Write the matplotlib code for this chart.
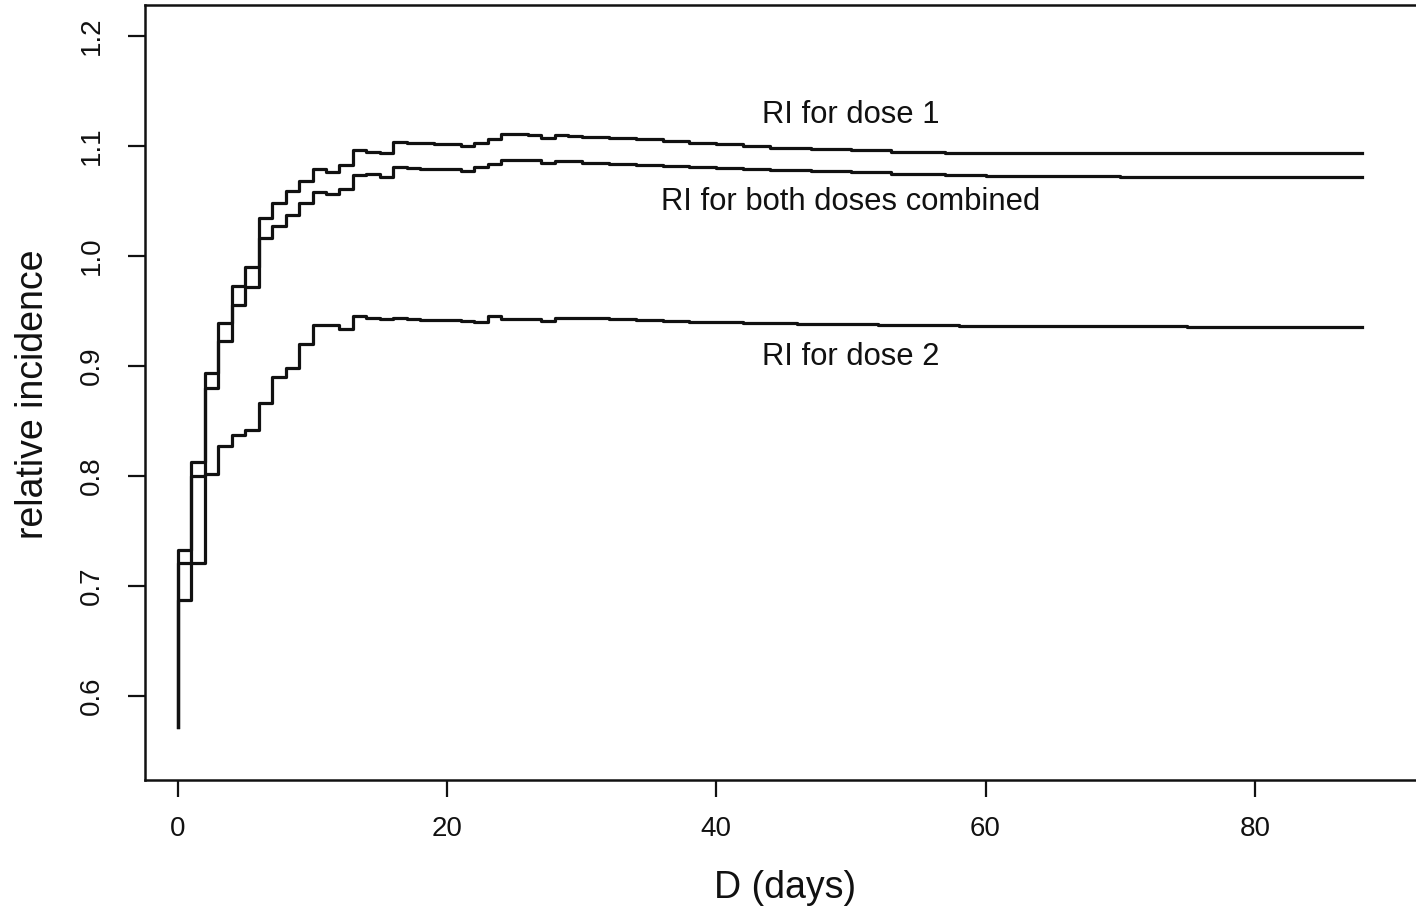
import matplotlib.pyplot as plt
import numpy as np

plt.rcParams['font.family'] = ['Liberation Sans', 'DejaVu Sans']

# start value shared by all three estimates at day 0
start = 0.572

# risk-period lengths (days) where each step begins, and the RI over that step
days_dose1 = [0, 1, 2, 3, 4, 5, 6, 7, 8, 9, 10, 11, 12, 13, 14, 15, 16, 17, 18, 19,
              20, 21, 22, 23, 24, 25, 26, 27, 28, 29, 30, 32, 34, 36, 38, 40, 42, 44,
              47, 50, 53, 57, 60, 88]
ri_dose1 = [0.733, 0.813, 0.894, 0.939, 0.973, 0.990, 1.035, 1.048, 1.059, 1.068,
            1.079, 1.076, 1.083, 1.096, 1.095, 1.094, 1.104, 1.103, 1.103, 1.102,
            1.102, 1.100, 1.103, 1.106, 1.111, 1.111, 1.110, 1.107, 1.110, 1.109,
            1.108, 1.107, 1.106, 1.105, 1.103, 1.102, 1.100, 1.098, 1.097, 1.096,
            1.095, 1.094, 1.0935, 1.0935]

days_both = [0, 1, 2, 3, 4, 5, 6, 7, 8, 9, 10, 11, 12, 13, 14, 15, 16, 17, 18, 19,
             20, 21, 22, 23, 24, 25, 26, 27, 28, 30, 32, 34, 36, 38, 40, 42, 44, 47,
             50, 53, 57, 60, 70, 88]
ri_both = [0.687, 0.800, 0.880, 0.923, 0.955, 0.972, 1.016, 1.027, 1.037, 1.048,
           1.058, 1.056, 1.061, 1.074, 1.075, 1.072, 1.081, 1.080, 1.079, 1.079,
           1.079, 1.077, 1.081, 1.084, 1.087, 1.087, 1.087, 1.085, 1.086, 1.085,
           1.084, 1.083, 1.082, 1.081, 1.080, 1.079, 1.078, 1.077, 1.076, 1.075,
           1.074, 1.073, 1.072, 1.072]

days_dose2 = [0, 2, 3, 4, 5, 6, 7, 8, 9, 10, 11, 12, 13, 14, 15, 16, 17, 18, 21, 22,
              23, 24, 27, 28, 30, 32, 34, 36, 38, 42, 46, 52, 58, 62, 75, 88]
ri_dose2 = [0.721, 0.802, 0.827, 0.837, 0.842, 0.866, 0.890, 0.898, 0.920, 0.937,
            0.937, 0.934, 0.945, 0.944, 0.943, 0.944, 0.943, 0.942, 0.941, 0.940,
            0.945, 0.943, 0.941, 0.944, 0.944, 0.943, 0.942, 0.941, 0.940, 0.939,
            0.938, 0.937, 0.9365, 0.936, 0.9355, 0.9355]

labels = ['RI for dose 1', 'RI for both doses combined', 'RI for dose 2']
label_x = [50.0, 50.0, 50.0]
label_y = [1.121, 1.042, 0.901]

fig = plt.figure(figsize=(14.16, 9.15), dpi=100)
ax = fig.add_axes([145 / 1416, 1 - 780 / 915, 1 - 145 / 1416, (780 - 5) / 915])

for d, ri in [(days_dose1, ri_dose1), (days_both, ri_both), (days_dose2, ri_dose2)]:
    x = np.concatenate([[0], d])
    y = np.concatenate([[start], ri])
    ax.step(x, y, where='post', color='#111111', lw=2.3)

for t, tx, ty in zip(labels, label_x, label_y):
    ax.text(tx, ty, t, ha='center', va='baseline', fontsize=22.3, color='#111111')

ax.set_xlim(-2.45, 91.98)
ax.set_ylim(0.5236, 1.2282)
ax.set_xticks([0, 20, 40, 60, 80])
ax.set_yticks([0.6, 0.7, 0.8, 0.9, 1.0, 1.1, 1.2])
ax.set_yticklabels(['0.6', '0.7', '0.8', '0.9', '1.0', '1.1', '1.2'])
ax.tick_params(direction='out', length=12, width=1.6, labelsize=20, colors='#111111')
ax.tick_params(axis='x', pad=14)
ax.tick_params(axis='y', pad=17, labelrotation=90)
for lab in ax.get_yticklabels():
    lab.set_va('center')
ax.spines['right'].set_visible(False)
for s in ['left', 'top', 'bottom']:
    ax.spines[s].set_linewidth(1.8)
    ax.spines[s].set_color('#111111')

fig.text(33 / 1416, 1 - 394 / 915, 'relative incidence', rotation=90,
         ha='center', va='center', fontsize=27, color='#111111')
fig.text(785 / 1416, 1 - 888 / 915, 'D (days)', ha='center', va='center',
         fontsize=27, color='#111111')

fig.savefig('out.png', dpi=100)
